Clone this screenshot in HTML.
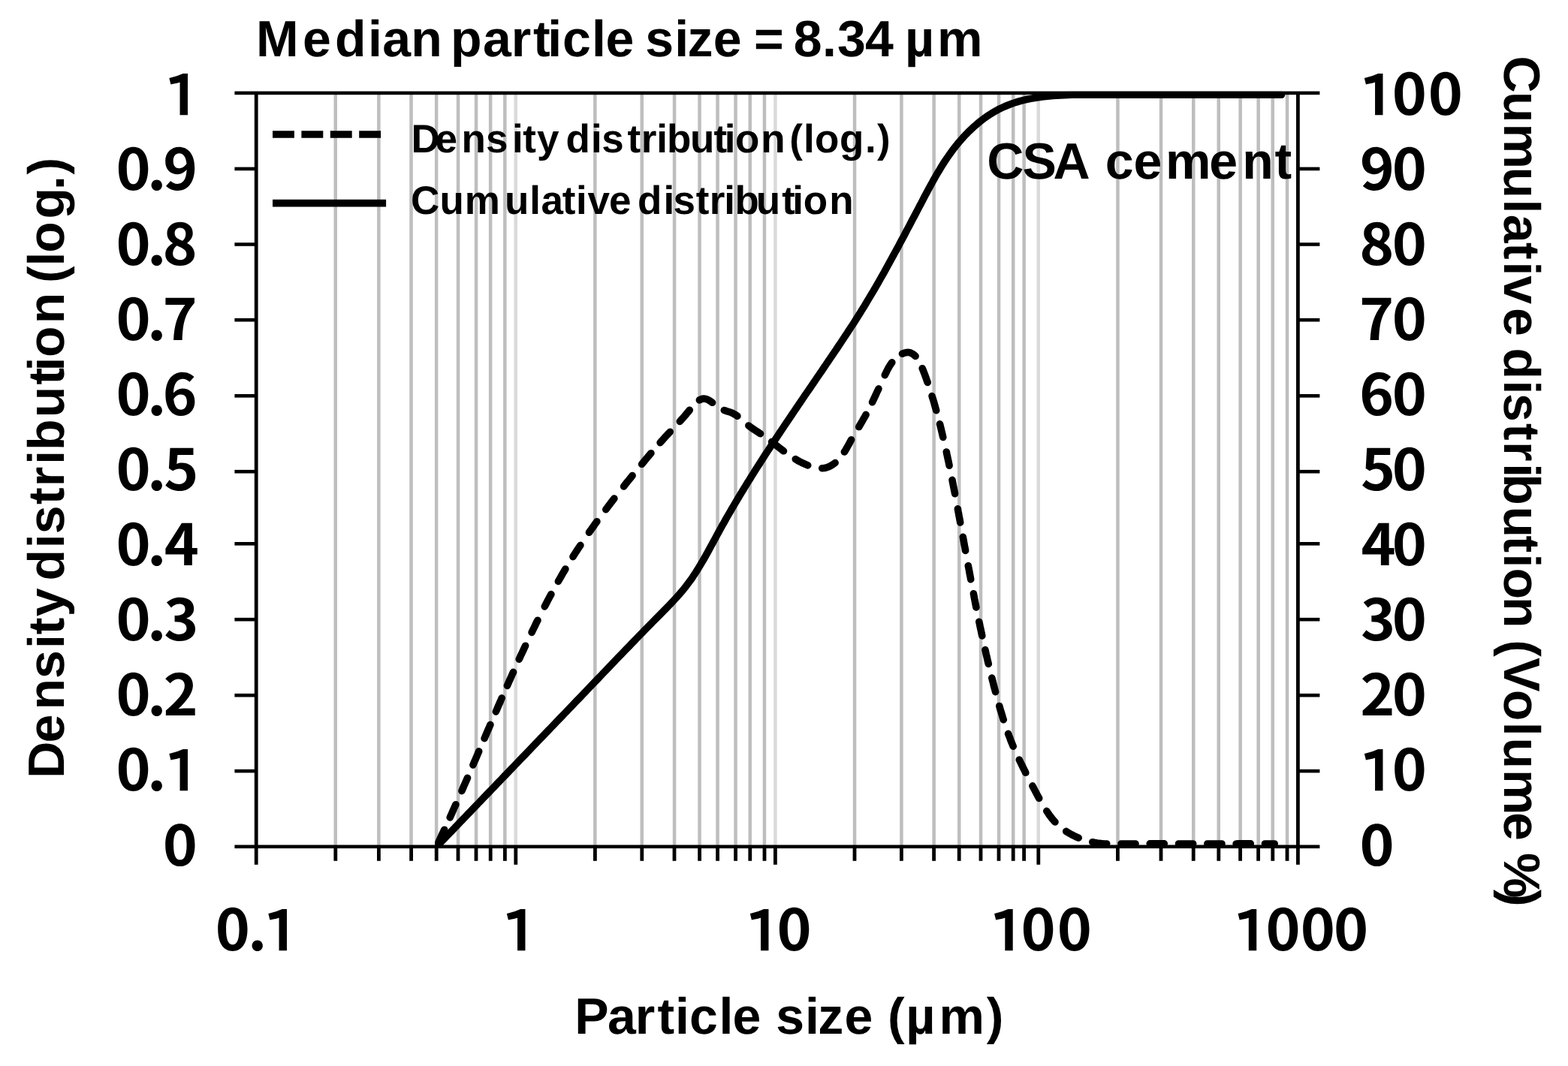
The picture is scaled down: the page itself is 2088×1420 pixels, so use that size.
<!DOCTYPE html>
<html lang="en"><head><meta charset="utf-8"><title>Particle size distribution - CSA cement</title>
<style>html,body{margin:0;padding:0;background:#fff;overflow:hidden;}svg{display:block;}.a{font-family:"Liberation Sans",Arial,Helvetica,sans-serif;font-weight:bold;fill:#000;}.n{font-family:"Noto Sans CJK KR","Noto Sans CJK JP","Noto Sans CJK SC","Liberation Sans",sans-serif;font-weight:bold;fill:#000;}.o{font-family:"IPAPGothic","IPAGothic","Noto Sans CJK KR",sans-serif;font-weight:normal;font-size:70.5px;stroke:#000;stroke-width:3.94px;stroke-linejoin:miter;}</style></head><body>
<svg width="2088" height="1420" viewBox="0 0 2088 1420">
<rect width="2088" height="1420" fill="#fff"/>
<g id="grid"><rect x="444.5" y="123.9" width="4.5" height="1003.9" fill="#bebebe"/><rect x="502.1" y="123.9" width="4.5" height="1003.9" fill="#bebebe"/><rect x="545.3" y="123.9" width="4.5" height="1003.9" fill="#bebebe"/><rect x="578.9" y="123.9" width="4.5" height="1003.9" fill="#bebebe"/><rect x="607.8" y="123.9" width="4.5" height="1003.9" fill="#bebebe"/><rect x="631.8" y="123.9" width="4.5" height="1003.9" fill="#bebebe"/><rect x="650.9" y="123.9" width="4.5" height="1003.9" fill="#bebebe"/><rect x="670.1" y="123.9" width="4.5" height="1003.9" fill="#bebebe"/><rect x="684.5" y="123.9" width="4.5" height="1003.9" fill="#dadada"/><rect x="790.1" y="123.9" width="4.5" height="1003.9" fill="#bebebe"/><rect x="852.5" y="123.9" width="4.5" height="1003.9" fill="#bebebe"/><rect x="895.8" y="123.9" width="4.5" height="1003.9" fill="#bebebe"/><rect x="929.3" y="123.9" width="4.5" height="1003.9" fill="#bebebe"/><rect x="953.3" y="123.9" width="4.5" height="1003.9" fill="#bebebe"/><rect x="977.3" y="123.9" width="4.5" height="1003.9" fill="#bebebe"/><rect x="996.5" y="123.9" width="4.5" height="1003.9" fill="#bebebe"/><rect x="1015.7" y="123.9" width="4.5" height="1003.9" fill="#bebebe"/><rect x="1030.2" y="123.9" width="4.5" height="1003.9" fill="#dadada"/><rect x="1135.8" y="123.9" width="4.5" height="1003.9" fill="#bebebe"/><rect x="1198.2" y="123.9" width="4.5" height="1003.9" fill="#bebebe"/><rect x="1241.4" y="123.9" width="4.5" height="1003.9" fill="#bebebe"/><rect x="1275.0" y="123.9" width="4.5" height="1003.9" fill="#bebebe"/><rect x="1303.8" y="123.9" width="4.5" height="1003.9" fill="#bebebe"/><rect x="1327.8" y="123.9" width="4.5" height="1003.9" fill="#bebebe"/><rect x="1347.0" y="123.9" width="4.5" height="1003.9" fill="#bebebe"/><rect x="1361.4" y="123.9" width="4.5" height="1003.9" fill="#bebebe"/><rect x="1380.5" y="123.9" width="4.5" height="1003.9" fill="#dadada"/><rect x="1486.2" y="123.9" width="4.5" height="1003.9" fill="#bebebe"/><rect x="1543.8" y="123.9" width="4.5" height="1003.9" fill="#bebebe"/><rect x="1587.0" y="123.9" width="4.5" height="1003.9" fill="#bebebe"/><rect x="1620.5" y="123.9" width="4.5" height="1003.9" fill="#bebebe"/><rect x="1649.4" y="123.9" width="4.5" height="1003.9" fill="#bebebe"/><rect x="1673.4" y="123.9" width="4.5" height="1003.9" fill="#bebebe"/><rect x="1692.5" y="123.9" width="4.5" height="1003.9" fill="#bebebe"/><rect x="1711.8" y="123.9" width="4.5" height="1003.9" fill="#bebebe"/></g>
<g id="axes" fill="#000"><rect x="338.8" y="123.9" width="4.8" height="1027.9"/><rect x="1726.0" y="123.9" width="4.8" height="1027.9"/><rect x="312.4" y="121.6" width="1445.0" height="4.6"/><rect x="312.4" y="222.6" width="28.8" height="4.6"/><rect x="1728.4" y="222.6" width="29.0" height="4.6"/><rect x="312.4" y="323.2" width="28.8" height="4.6"/><rect x="1728.4" y="323.2" width="29.0" height="4.6"/><rect x="312.4" y="423.9" width="28.8" height="4.6"/><rect x="1728.4" y="423.9" width="29.0" height="4.6"/><rect x="312.4" y="525.0" width="28.8" height="4.6"/><rect x="1728.4" y="525.0" width="29.0" height="4.6"/><rect x="312.4" y="625.9" width="28.8" height="4.6"/><rect x="1728.4" y="625.9" width="29.0" height="4.6"/><rect x="312.4" y="722.0" width="28.8" height="4.6"/><rect x="1728.4" y="722.0" width="29.0" height="4.6"/><rect x="312.4" y="822.9" width="28.8" height="4.6"/><rect x="1728.4" y="822.9" width="29.0" height="4.6"/><rect x="312.4" y="923.9" width="28.8" height="4.6"/><rect x="1728.4" y="923.9" width="29.0" height="4.6"/><rect x="312.4" y="1024.8" width="28.8" height="4.6"/><rect x="1728.4" y="1024.8" width="29.0" height="4.6"/><rect x="312.4" y="1125.5" width="1445.0" height="4.6"/><rect x="444.4" y="1127.8" width="4.8" height="19.0"/><rect x="502.0" y="1127.8" width="4.8" height="19.0"/><rect x="545.2" y="1127.8" width="4.8" height="19.0"/><rect x="578.8" y="1127.8" width="4.8" height="19.0"/><rect x="607.6" y="1127.8" width="4.8" height="19.0"/><rect x="631.6" y="1127.8" width="4.8" height="19.0"/><rect x="650.8" y="1127.8" width="4.8" height="19.0"/><rect x="670.0" y="1127.8" width="4.8" height="19.0"/><rect x="684.4" y="1127.8" width="4.8" height="24.0"/><rect x="790.0" y="1127.8" width="4.8" height="19.0"/><rect x="852.4" y="1127.8" width="4.8" height="19.0"/><rect x="895.6" y="1127.8" width="4.8" height="19.0"/><rect x="929.2" y="1127.8" width="4.8" height="19.0"/><rect x="953.2" y="1127.8" width="4.8" height="19.0"/><rect x="977.2" y="1127.8" width="4.8" height="19.0"/><rect x="996.4" y="1127.8" width="4.8" height="19.0"/><rect x="1015.6" y="1127.8" width="4.8" height="19.0"/><rect x="1030.0" y="1127.8" width="4.8" height="24.0"/><rect x="1135.6" y="1127.8" width="4.8" height="19.0"/><rect x="1198.0" y="1127.8" width="4.8" height="19.0"/><rect x="1241.2" y="1127.8" width="4.8" height="19.0"/><rect x="1274.8" y="1127.8" width="4.8" height="19.0"/><rect x="1303.6" y="1127.8" width="4.8" height="19.0"/><rect x="1327.6" y="1127.8" width="4.8" height="19.0"/><rect x="1346.8" y="1127.8" width="4.8" height="19.0"/><rect x="1361.2" y="1127.8" width="4.8" height="19.0"/><rect x="1380.4" y="1127.8" width="4.8" height="24.0"/><rect x="1486.0" y="1127.8" width="4.8" height="19.0"/><rect x="1543.6" y="1127.8" width="4.8" height="19.0"/><rect x="1586.8" y="1127.8" width="4.8" height="19.0"/><rect x="1620.4" y="1127.8" width="4.8" height="19.0"/><rect x="1649.2" y="1127.8" width="4.8" height="19.0"/><rect x="1673.2" y="1127.8" width="4.8" height="19.0"/><rect x="1692.4" y="1127.8" width="4.8" height="19.0"/><rect x="1711.6" y="1127.8" width="4.8" height="19.0"/></g>
<defs><clipPath id="plotclip"><rect x="579.2" y="121.8" width="1150" height="1008.2"/></clipPath></defs>
<g id="curves" clip-path="url(#plotclip)" fill="none" stroke="#000" stroke-width="9.6" stroke-linecap="round" stroke-linejoin="round"><path id="cumulative" d="M581.6 1127.7 L585.1 1124.1 L588.5 1120.5 L592.0 1116.9 L595.4 1113.3 L598.9 1109.7 L602.4 1106.1 L605.8 1102.4 L609.3 1098.8 L612.8 1095.2 L616.2 1091.6 L619.7 1088.0 L623.1 1084.4 L626.6 1080.8 L630.1 1077.2 L633.5 1073.6 L637.0 1070.0 L640.5 1066.4 L643.9 1062.8 L647.4 1059.2 L650.8 1055.6 L654.3 1052.0 L657.8 1048.4 L661.2 1044.7 L664.7 1041.1 L668.2 1037.5 L671.6 1033.9 L675.1 1030.3 L678.6 1026.7 L682.0 1023.1 L685.5 1019.5 L689.0 1015.9 L692.4 1012.3 L695.9 1008.7 L699.4 1005.1 L702.8 1001.5 L706.3 997.9 L709.7 994.3 L713.2 990.7 L716.7 987.0 L720.1 983.4 L723.6 979.8 L727.1 976.2 L730.5 972.6 L734.0 969.0 L737.5 965.4 L740.9 961.8 L744.4 958.2 L747.8 954.6 L751.3 951.0 L754.8 947.4 L758.2 943.8 L761.7 940.2 L765.1 936.5 L768.6 932.9 L772.1 929.3 L775.5 925.7 L779.0 922.1 L782.4 918.5 L785.9 914.9 L789.3 911.3 L792.8 907.7 L796.2 904.1 L799.7 900.5 L803.2 896.8 L806.6 893.2 L810.1 889.6 L813.5 886.0 L817.0 882.4 L820.4 878.8 L823.9 875.2 L827.4 871.6 L830.8 868.0 L834.3 864.4 L837.8 860.8 L841.3 857.2 L844.7 853.6 L848.2 850.0 L851.7 846.4 L855.2 842.8 L858.7 839.2 L862.2 835.7 L865.7 832.1 L869.2 828.5 L872.8 824.9 L876.3 821.4 L879.8 817.8 L883.4 814.2 L886.9 810.6 L890.4 807.0 L893.9 803.4 L897.3 799.8 L900.7 796.1 L904.0 792.4 L907.2 788.6 L910.4 784.8 L913.5 780.9 L916.5 776.9 L919.5 772.9 L922.3 768.9 L925.1 764.7 L927.7 760.6 L930.4 756.3 L932.9 752.1 L935.5 747.8 L938.0 743.5 L940.4 739.1 L942.8 734.8 L945.2 730.4 L947.6 726.0 L950.0 721.6 L952.4 717.2 L954.8 712.8 L957.2 708.4 L959.6 704.0 L962.0 699.7 L964.5 695.3 L966.9 690.9 L969.4 686.6 L971.9 682.3 L974.4 678.0 L977.0 673.6 L979.5 669.3 L982.1 665.0 L984.6 660.8 L987.2 656.5 L989.8 652.2 L992.4 648.0 L995.0 643.7 L997.7 639.5 L1000.3 635.2 L1003.0 631.0 L1005.6 626.8 L1008.3 622.5 L1011.0 618.3 L1013.7 614.1 L1016.4 609.9 L1019.1 605.7 L1021.8 601.5 L1024.6 597.3 L1027.3 593.1 L1030.1 589.0 L1032.8 584.8 L1035.6 580.6 L1038.3 576.5 L1041.1 572.3 L1043.9 568.1 L1046.7 564.0 L1049.5 559.8 L1052.3 555.7 L1055.1 551.5 L1057.9 547.4 L1060.7 543.3 L1063.5 539.1 L1066.3 535.0 L1069.1 530.9 L1071.9 526.7 L1074.7 522.6 L1077.6 518.5 L1080.4 514.3 L1083.2 510.2 L1086.0 506.1 L1088.8 501.9 L1091.7 497.8 L1094.5 493.7 L1097.3 489.5 L1100.1 485.4 L1102.9 481.3 L1105.7 477.1 L1108.5 473.0 L1111.3 468.8 L1114.1 464.7 L1116.9 460.5 L1119.7 456.4 L1122.5 452.2 L1125.2 448.0 L1128.0 443.9 L1130.7 439.7 L1133.4 435.5 L1136.2 431.3 L1138.9 427.1 L1141.5 422.9 L1144.2 418.7 L1146.8 414.4 L1149.5 410.2 L1152.1 405.9 L1154.7 401.6 L1157.2 397.4 L1159.8 393.1 L1162.3 388.8 L1164.9 384.5 L1167.4 380.1 L1169.9 375.8 L1172.3 371.5 L1174.8 367.1 L1177.3 362.8 L1179.7 358.4 L1182.1 354.0 L1184.5 349.7 L1186.9 345.3 L1189.3 340.9 L1191.7 336.5 L1194.1 332.1 L1196.5 327.7 L1198.8 323.3 L1201.2 318.9 L1203.6 314.5 L1205.9 310.0 L1208.2 305.6 L1210.6 301.2 L1212.9 296.8 L1215.2 292.3 L1217.6 287.9 L1219.9 283.5 L1222.2 279.1 L1224.5 274.6 L1226.9 270.2 L1229.2 265.8 L1231.5 261.3 L1233.9 256.9 L1236.2 252.5 L1238.6 248.1 L1241.0 243.7 L1243.4 239.4 L1245.9 235.0 L1248.4 230.7 L1251.0 226.4 L1253.6 222.1 L1256.2 217.9 L1258.9 213.7 L1261.7 209.6 L1264.6 205.5 L1267.5 201.4 L1270.5 197.4 L1273.6 193.5 L1276.8 189.6 L1280.1 185.8 L1283.5 182.0 L1287.0 178.3 L1290.6 174.7 L1294.3 171.2 L1298.0 167.8 L1301.9 164.5 L1305.8 161.3 L1309.8 158.2 L1313.9 155.3 L1318.1 152.5 L1322.3 149.9 L1326.6 147.4 L1330.9 145.1 L1335.4 143.0 L1339.9 141.0 L1344.4 139.2 L1349.0 137.5 L1353.7 136.0 L1358.4 134.7 L1363.1 133.4 L1367.9 132.3 L1372.7 131.4 L1377.6 130.5 L1382.5 129.7 L1387.4 129.0 L1392.4 128.4 L1397.4 128.0 L1402.4 127.5 L1407.4 127.2 L1412.4 126.9 L1417.5 126.7 L1422.6 126.5 L1427.6 126.3 L1432.7 126.3 L1437.8 126.3 L1440.0 126.3 L1706.5 126.3"/><path id="density" d="M583.4 1123.0 L584.6 1120.4 L585.8 1117.9 L587.0 1115.4 L588.1 1112.8 L589.3 1110.3 L590.5 1107.8 L591.7 1105.2 M599.2 1088.9 L600.5 1086.1 L601.8 1083.2 L603.0 1080.3 L604.3 1077.4 L605.6 1074.6 L606.9 1071.7 M614.9 1053.6 L616.2 1050.7 L617.4 1047.8 L618.7 1044.9 L619.9 1042.1 L621.2 1039.2 L622.5 1036.3 M629.9 1019.0 L631.0 1016.4 L632.1 1013.8 L633.3 1011.2 L634.4 1008.6 L635.5 1006.0 L636.6 1003.4 L637.7 1000.8 M645.1 983.6 L646.2 981.0 L647.3 978.4 L648.4 975.8 L649.5 973.2 L650.7 970.6 L651.8 968.0 L652.9 965.4 M660.4 948.0 L661.5 945.4 L662.6 942.8 L663.7 940.2 L664.8 937.7 L666.0 935.1 L667.1 932.5 L668.2 929.9 M675.4 913.4 L676.6 910.8 L677.7 908.2 L678.9 905.7 L680.0 903.1 L681.2 900.5 L682.3 897.9 L683.5 895.4 M691.2 878.2 L692.4 875.7 L693.6 873.1 L694.8 870.5 L696.0 867.9 L697.2 865.4 L698.4 862.8 L699.6 860.2 M708.1 842.4 L709.4 839.7 L710.7 837.0 L712.0 834.3 L713.3 831.6 L714.6 828.9 L716.0 826.3 M725.3 807.9 L726.7 805.2 L728.1 802.5 L729.5 799.8 L731.0 797.0 L732.4 794.3 L733.9 791.6 M743.4 774.4 L745.0 771.6 L746.6 768.9 L748.1 766.2 L749.7 763.4 L751.3 760.7 L752.9 758.0 M763.0 741.6 L764.6 739.0 L766.2 736.5 L767.9 733.9 L769.5 731.4 L771.2 728.9 L772.9 726.4 M784.5 709.3 L786.2 706.8 L787.9 704.4 L789.7 702.0 L791.4 699.5 L793.1 697.1 L794.9 694.7 M806.8 678.7 L808.6 676.2 L810.4 673.8 L812.3 671.4 L814.1 668.9 L816.0 666.5 L817.9 664.1 M830.6 647.9 L832.5 645.5 L834.4 643.1 L836.3 640.7 L838.3 638.3 L840.2 635.9 L842.1 633.5 M854.6 618.3 L856.7 615.8 L858.7 613.4 L860.7 611.0 L862.8 608.5 L864.8 606.1 L866.9 603.7 M879.1 589.6 L881.0 587.5 L882.9 585.5 L884.7 583.4 L886.6 581.3 L888.5 579.3 L890.4 577.2 L892.3 575.2 M905.3 561.4 L907.2 559.3 L909.0 557.2 L910.9 555.1 L912.8 552.9 L914.6 550.7 L916.5 548.5 L918.3 546.2 M931.4 532.9 L934.2 531.6 L937.2 531.1 L940.1 531.4 L943.0 532.6 L945.9 534.3 L948.6 536.3 M964.3 546.5 L967.4 547.6 L970.5 548.5 L973.6 549.5 L976.5 550.9 L979.3 552.4 L981.9 554.2 M996.9 567.0 L999.4 568.9 L1002.0 570.7 L1004.6 572.5 L1007.3 574.2 L1010.0 576.0 L1012.6 577.7 M1027.6 588.6 L1029.9 590.4 L1032.2 592.1 L1034.4 593.9 L1036.7 595.6 L1038.9 597.4 L1041.2 599.1 L1043.5 600.8 M1059.3 611.6 L1061.9 613.2 L1064.6 614.7 L1067.3 616.1 L1070.1 617.4 L1072.9 618.7 L1075.7 619.9 M1094.7 623.8 L1097.7 623.5 L1100.7 622.8 L1103.7 621.8 L1106.6 620.3 L1109.4 618.5 L1112.1 616.5 M1124.4 602.0 L1126.1 599.4 L1127.6 596.7 L1129.1 594.0 L1130.6 591.3 L1132.1 588.5 L1133.6 585.8 M1143.7 568.7 L1145.3 566.0 L1146.9 563.3 L1148.5 560.6 L1150.0 557.8 L1151.6 555.1 L1153.1 552.4 M1161.6 535.8 L1162.8 533.2 L1164.0 530.7 L1165.2 528.2 L1166.4 525.6 L1167.5 523.0 L1168.7 520.5 L1169.9 517.9 M1178.3 499.7 L1179.7 496.8 L1181.1 493.9 L1182.6 491.0 L1184.2 488.2 L1185.9 485.4 L1187.8 482.8 M1201.5 471.2 L1204.3 470.1 L1207.2 469.5 L1209.9 469.4 L1212.6 470.0 L1215.0 471.2 L1217.2 472.7 L1219.1 474.5 M1228.2 490.7 L1229.5 493.9 L1230.7 497.0 L1231.9 500.1 L1233.0 503.2 L1234.1 506.3 L1235.2 509.4 M1241.1 527.6 L1241.9 530.3 L1242.8 533.0 L1243.6 535.7 L1244.4 538.5 L1245.1 541.2 L1245.9 543.9 L1246.7 546.6 M1251.5 564.8 L1252.3 567.8 L1253.0 570.7 L1253.7 573.6 L1254.4 576.6 L1255.1 579.5 L1255.8 582.5 M1260.3 602.0 L1260.9 605.0 L1261.6 608.1 L1262.2 611.1 L1262.9 614.1 L1263.5 617.1 L1264.1 620.2 M1268.0 639.4 L1268.6 642.5 L1269.2 645.5 L1269.8 648.6 L1270.4 651.6 L1271.0 654.6 L1271.6 657.7 M1275.4 677.8 L1275.9 680.8 L1276.5 683.9 L1277.0 686.9 L1277.6 689.9 L1278.2 693.0 L1278.7 696.0 M1282.3 715.3 L1282.8 718.3 L1283.4 721.3 L1283.9 724.4 L1284.5 727.4 L1285.1 730.4 L1285.6 733.4 M1289.3 753.6 L1289.9 756.6 L1290.5 759.6 L1291.0 762.7 L1291.6 765.7 L1292.2 768.7 L1292.7 771.8 M1296.4 790.8 L1297.0 793.9 L1297.5 796.9 L1298.1 799.9 L1298.7 803.0 L1299.3 806.0 L1299.9 809.0 M1303.8 828.2 L1304.5 831.4 L1305.1 834.5 L1305.8 837.6 L1306.5 840.7 L1307.1 843.9 L1307.8 847.0 M1311.9 865.6 L1312.6 868.8 L1313.3 871.9 L1314.1 875.0 L1314.8 878.2 L1315.5 881.3 L1316.3 884.4 M1320.8 903.1 L1321.6 906.2 L1322.4 909.2 L1323.1 912.3 L1323.9 915.4 L1324.8 918.5 L1325.6 921.6 M1330.8 940.5 L1331.6 943.5 L1332.5 946.6 L1333.5 949.6 L1334.4 952.7 L1335.3 955.7 L1336.3 958.7 M1342.6 977.4 L1343.7 980.2 L1344.8 983.0 L1345.8 985.9 L1346.9 988.7 L1348.1 991.4 L1349.2 994.2 M1357.3 1012.1 L1358.7 1015.0 L1360.1 1017.8 L1361.5 1020.7 L1362.9 1023.6 L1364.4 1026.4 L1365.8 1029.3 M1374.9 1046.9 L1376.4 1049.7 L1377.8 1052.4 L1379.3 1055.2 L1380.7 1057.9 L1382.2 1060.7 L1383.7 1063.4 M1393.8 1080.4 L1395.5 1082.9 L1397.2 1085.5 L1399.1 1087.9 L1400.9 1090.4 L1402.9 1092.7 L1405.0 1095.0 M1419.7 1107.4 L1422.3 1109.1 L1425.0 1110.6 L1427.7 1112.1 L1430.5 1113.5 L1433.3 1114.8 L1436.2 1116.1 M1454.7 1121.8 L1457.9 1122.4 L1461.0 1123.0 L1464.2 1123.4 L1467.4 1123.7 L1470.6 1124.0 L1473.7 1124.0 M1492.9 1124.0 L1496.0 1124.0 L1499.2 1124.0 L1502.4 1124.0 L1505.6 1124.0 L1508.8 1124.0 L1512.0 1124.0 M1531.2 1123.8 L1534.4 1123.8 L1537.6 1123.8 L1540.7 1123.8 L1543.9 1123.8 L1547.1 1123.8 L1550.3 1123.8 M1569.5 1124.0 L1572.7 1124.0 L1575.9 1124.0 L1579.1 1124.0 L1582.3 1124.0 L1585.5 1124.0 L1588.7 1124.0 M1607.8 1124.0 L1611.0 1124.0 L1614.2 1124.0 L1617.4 1124.0 L1620.6 1124.0 L1623.8 1124.0 L1627.0 1124.0 M1646.1 1124.0 L1649.3 1123.9 L1652.5 1123.9 L1655.7 1123.9 L1658.9 1123.9 L1662.1 1123.9 L1665.3 1123.9 M1684.4 1124.0 L1687.6 1124.0 L1690.8 1124.0 L1694.0 1124.0 L1697.2 1124.0"/></g>
<g id="legend" stroke="#000" stroke-width="9.6" fill="none"><path d="M363 179H507.1" stroke-dasharray="28.9 9.5"/><path d="M363 270.6H514.1"/></g>
<g id="labels" style="font-kerning:none" text-rendering="geometricPrecision"><text id="title" class="a" font-size="68.0" x="340.9 402.9 445.9 490.1 509.2 547.2 588.8 599.9 643.1 680.7 710.1 729.3 748.9 788.0 806.4 844.3 859.2 898.2 915.4 949.8 987.7 1003.9 1043.6 1056.7 1095.1 1115.1 1151.9 1189.7 1205.1 1248.1" y="74.9">Median particle size = 8.34 µm</text><text id="leg1" class="a" font-size="53.0" x="547.5 579.5 614.4 647.1 681.9 696.3 715.0 744.5 753.4 786.9 801.3 835.4 853.8 874.2 888.1 918.9 950.4 964.8 979.1 1013.2 1045.6 1051.2 1069.9 1085.1 1118.0 1152.1 1168.0" y="202.9">Density distribution (log.)</text><text id="leg2" class="a" font-size="53.0" x="547.1 585.5 618.7 672.0 705.3 720.5 748.8 767.1 782.5 810.9 840.4 848.9 883.5 896.6 926.7 944.7 964.3 978.5 1006.7 1041.3 1055.2 1069.7 1104.3" y="285.0">Cumulative distribution</text><text id="note" class="a" font-size="68.0" x="1314.3 1361.5 1402.4 1451.5 1471.7 1509.4 1552.1 1610.3 1654.3 1697.6" y="238.0">CSA cement</text><text id="xtitle" class="a" font-size="68.0" x="765.2 809.1 845.8 875.6 899.1 918.1 957.4 975.4 1013.3 1033.3 1072.1 1089.2 1124.4 1162.3 1182.0 1206.3 1250.4 1313.8" y="1377.1">Particle size (µm)</text><text id="ytitle" class="a" font-size="68.0" x="-1036.7 -989.5 -945.6 -904.0 -863.9 -845.2 -821.2 -783.4 -773.6 -730.3 -711.2 -672.1 -648.2 -618.8 -599.9 -556.2 -512.4 -494.6 -475.9 -431.3 -389.7 -377.0 -354.6 -336.8 -291.6 -252.9 -232.6" y="0.0" transform="translate(85.1 0) rotate(-90)">Density distribution (log.)</text><text id="y2title" class="a" font-size="68.0" x="74.6 121.9 164.6 222.5 265.4 285.8 323.1 348.5 367.3 409.9 447.8 463.4 506.5 524.0 564.1 588.0 617.3 631.3 674.6 713.5 737.6 756.4 795.0 836.6 852.3 875.9 918.7 961.8 982.6 1025.1 1082.1 1120.0 1136.0 1185.0" y="0.0" transform="translate(2003.2 0) rotate(90)">Cumulative distribution (Volume %)</text><text class="n" font-size="76" transform="scale(1.03 1)"><tspan class="o" x="213.7" y="152.2">1</tspan></text><text class="n" font-size="76" transform="scale(1.03 1)"><tspan x="150.1 190.4 210.8" y="253.3">0.9</tspan></text><text class="n" font-size="76" transform="scale(1.03 1)"><tspan x="150.1 190.4 210.3" y="353.3">0.8</tspan></text><text class="n" font-size="76" transform="scale(1.03 1)"><tspan x="150.1 190.4 210.1" y="453.3">0.7</tspan></text><text class="n" font-size="76" transform="scale(1.03 1)"><tspan x="150.1 190.4 210.1" y="553.3">0.6</tspan></text><text class="n" font-size="76" transform="scale(1.03 1)"><tspan x="150.1 190.4 211.9" y="653.3">0.5</tspan></text><text class="n" font-size="76" transform="scale(1.03 1)"><tspan x="150.1 190.4 212.3" y="753.3">0.4</tspan></text><text class="n" font-size="76" transform="scale(1.03 1)"><tspan x="150.1 190.4 211.9" y="853.3">0.3</tspan></text><text class="n" font-size="76" transform="scale(1.03 1)"><tspan x="150.1 190.4 211.2" y="953.3">0.2</tspan></text><text class="n" font-size="76" transform="scale(1.03 1)"><tspan x="150.1 190.4" y="1053.3">0.</tspan><tspan class="o" x="213.7" y="1052.2">1</tspan></text><text class="n" font-size="76" transform="scale(1.03 1)"><tspan x="210.5" y="1153.3">0</tspan></text><text class="n" font-size="76" transform="scale(1.03 1)"><tspan class="o" x="1758.8" y="152.2">1</tspan><tspan x="1799.8 1846.3" y="153.3">00</tspan></text><text class="n" font-size="76" transform="scale(1.03 1)"><tspan x="1758.1 1799.8" y="253.3">90</tspan></text><text class="n" font-size="76" transform="scale(1.03 1)"><tspan x="1757.6 1799.8" y="353.3">80</tspan></text><text class="n" font-size="76" transform="scale(1.03 1)"><tspan x="1757.4 1799.8" y="453.3">70</tspan></text><text class="n" font-size="76" transform="scale(1.03 1)"><tspan x="1757.4 1799.8" y="553.3">60</tspan></text><text class="n" font-size="76" transform="scale(1.03 1)"><tspan x="1759.2 1799.8" y="653.3">50</tspan></text><text class="n" font-size="76" transform="scale(1.03 1)"><tspan x="1759.6 1799.8" y="753.3">40</tspan></text><text class="n" font-size="76" transform="scale(1.03 1)"><tspan x="1759.2 1799.8" y="853.3">30</tspan></text><text class="n" font-size="76" transform="scale(1.03 1)"><tspan x="1758.5 1799.8" y="953.3">20</tspan></text><text class="n" font-size="76" transform="scale(1.03 1)"><tspan class="o" x="1758.8" y="1052.2">1</tspan><tspan x="1799.8" y="1053.3">0</tspan></text><text class="n" font-size="76" transform="scale(1.03 1)"><tspan x="1757.8" y="1153.3">0</tspan></text><text class="n" font-size="76" transform="scale(1.03 1)"><tspan x="278.3 320.5" y="1266.4">0.</tspan><tspan class="o" x="341.7" y="1265.3">1</tspan></text><text class="n" font-size="76" transform="scale(1.03 1)"><tspan class="o" x="649.9" y="1265.3">1</tspan></text><text class="n" font-size="76" transform="scale(1.03 1)"><tspan class="o" x="964.5" y="1265.3">1</tspan><tspan x="1004.3" y="1266.4">0</tspan></text><text class="n" font-size="76" transform="scale(1.03 1)"><tspan class="o" x="1280.4" y="1265.3">1</tspan><tspan x="1320.0 1366.8" y="1266.4">00</tspan></text><text class="n" font-size="76" transform="scale(1.03 1)"><tspan class="o" x="1595.5" y="1265.3">1</tspan><tspan x="1636.3 1681.3 1724.3" y="1266.4">000</tspan></text></g>
</svg></body></html>
